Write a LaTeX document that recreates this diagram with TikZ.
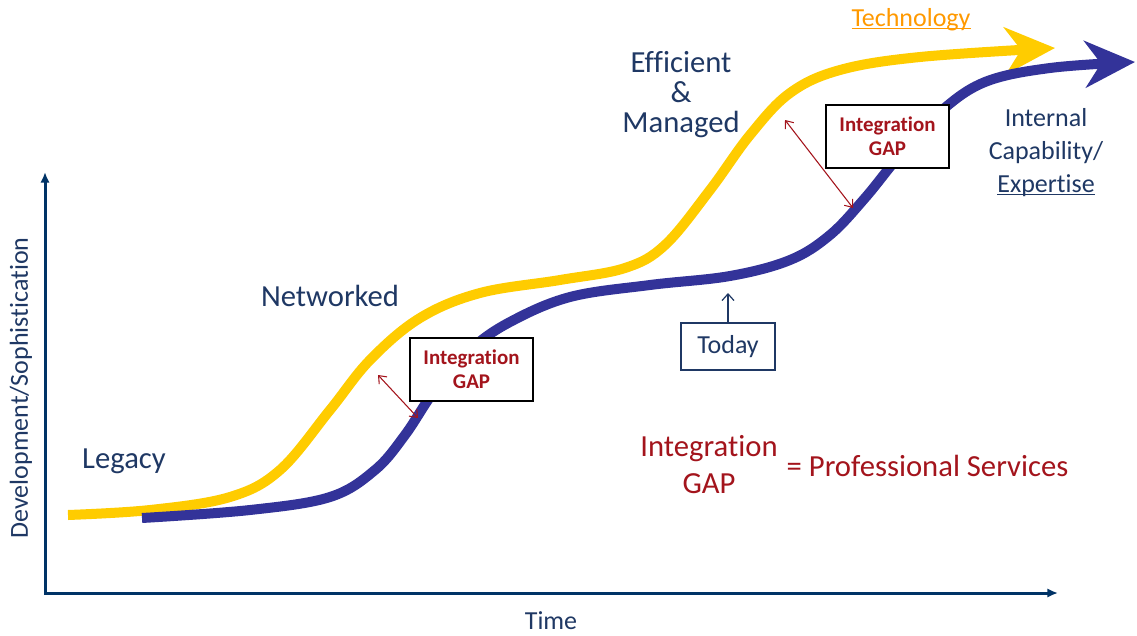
\documentclass[tikz,border=0pt]{standalone}
\usepackage{fontspec}
\setmainfont{Carlito}[Ligatures=NoCommon]
\usetikzlibrary{arrows.meta}
\definecolor{navy}{RGB}{31,56,100}
\definecolor{axisblue}{RGB}{0,51,102}
\definecolor{techyellow}{RGB}{255,204,0}
\definecolor{capblue}{RGB}{51,51,153}
\definecolor{gapred}{RGB}{163,20,28}
\definecolor{techorange}{RGB}{255,153,0}
\newcommand{\ulword}[1]{\underline{\raisebox{0pt}[\height][0pt]{#1}}}
\tikzset{
	lbl/.style={text=navy, align=center, font=\fontsize{23}{22.5}\selectfont},
	lblsmall/.style={text=navy, align=center, font=\fontsize{19.5}{24.75}\selectfont},
	gapbox/.style={draw=black, line width=1.1pt, fill=white, minimum width=92pt, minimum height=47pt, align=center, text=gapred, font=\bfseries\fontsize{15.7}{18}\selectfont},
	gaparrow/.style={gapred, line width=0.8pt, {Straight Barb[length=5pt,width=8pt]}-{Straight Barb[length=5pt,width=8pt]}},
	curve/.style={line width=7.5pt, -{Stealth[length=37.5pt,width=35pt,inset=12pt]}},
}
\begin{document}
\begin{tikzpicture}[x=0.75pt,y=-0.75pt]
\useasboundingbox (0,0) rectangle (1137,635);
% axes
\draw[axisblue, line width=2.25pt, {Latex[length=8pt,width=7pt]}-{Latex[length=8pt,width=7pt]}] (45,172) |- (1058,593);
\node[lblsmall, rotate=90] (yaxis) at (21,388) {Development/Sophistication};
\node[lblsmall, inner sep=1pt] (xaxis) at (551,621) {Time};

% curves
\draw[curve, techyellow] plot[smooth, tension=0.6] coordinates {(68,515) (150,510) (230,497) (280,470) (330,410) (370,360) (420,318) (480,293) (560,280) (625,268) (665,245) (710,190) (750,135) (790,93) (840,70) (920,57) (1055,48)};
\draw[curve, capblue] plot[smooth, tension=0.6] coordinates {(142,518) (250,510) (330,497) (375,470) (405,435) (435,390) (470,350) (510,322) (570,297) (650,285) (730,276) (790,260) (830,235) (865,198) (900,155) (940,112) (985,82) (1050,68) (1135,62)};

\node[lbl] (legacy) at (124,461) {Legacy};
\node[lbl] (networked) at (330,296) {Networked};
\node[lbl] (managed) at (681,95) {Efficient\\\&\\Managed};
\node[lblsmall, text=techorange] (tech) at (911,19) {\ulword{Technology}};
\node[lblsmall] (internal) at (1046,152) {Internal\\Capability/\\\ulword{Expertise}};

% gaps
\node[gapbox] (gap1) at (471.5,369.5) {Integration\\GAP};
\node[gapbox] (gap2) at (887.5,136.5) {Integration\\GAP};
\coordinate (g1top) at (378,375);
\coordinate (g1bot) at (418,418);
\coordinate (g2top) at (785,120);
\coordinate (g2bot) at (853,208);
\draw[gaparrow] (g1top) -- (g1bot);
\draw[gaparrow] (g2top) -- (g2bot);

\node[lblsmall, draw=navy, line width=1.1pt, minimum width=70.5pt, minimum height=35pt] (today) at (728,346.5) {Today};
\coordinate (now) at (728,293);
\draw[navy, line width=0.9pt, -{Straight Barb[length=5pt,width=9pt]}] (today.north) -- (now);

\node[lbl, text=gapred, font=\fontsize{23}{27.75}\selectfont] (legend) at (709,465) {Integration\\GAP};
\node[lbl, text=gapred, anchor=west] (services) at (782,466) {= Professional Services};

\end{tikzpicture}
\end{document}
